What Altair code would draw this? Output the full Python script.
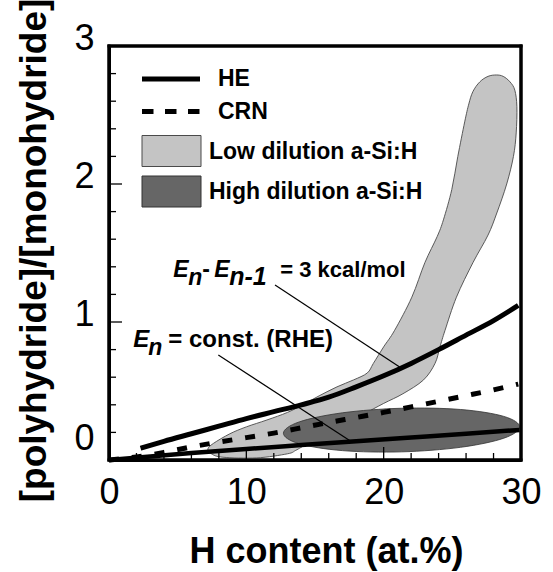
import altair as alt
import pandas as pd

F = "Liberation Sans"

# ---- data ----
he_x = [2.3, 4, 6, 8, 10, 12, 14, 16, 18, 20, 22, 24, 26, 28, 29.8]
he_y = [0.085, 0.135, 0.19, 0.245, 0.30, 0.35, 0.40, 0.455, 0.53, 0.61, 0.70, 0.80, 0.905, 1.01, 1.12]

crn_x = [0, 2, 4, 6, 8, 10, 12, 14, 16, 18, 20, 22, 24, 26, 28, 29.8]
crn_y = [0, 0.022, 0.055, 0.095, 0.13, 0.162, 0.195, 0.233, 0.272, 0.308, 0.345, 0.385, 0.425, 0.466, 0.508, 0.55]

rhe_x = [0, 3, 6, 10, 14, 18, 22, 26, 29.9]
rhe_y = [0, 0.025, 0.05, 0.08, 0.108, 0.136, 0.163, 0.19, 0.218]

low_x = [27.6, 28.2, 28.7, 29.2, 29.55, 29.7, 29.65, 29.45, 28.96, 28.24, 27.6, 26.5, 25.3, 24.47,
         24.1, 23.74, 22.9, 21.4, 20.0, 18.5, 16.5, 14.5, 13.6, 13.0, 10.75, 8.3, 7.45, 7.2, 7.6,
         8.8, 10.0, 11.5, 13.0, 14.2, 15.3, 16.6, 17.8, 18.8, 19.25, 20.0, 20.8, 22.05, 23.0, 23.9,
         24.35, 24.96, 25.4, 25.9, 26.2, 26.5, 27.0]
low_y = [2.78, 2.79, 2.78, 2.74, 2.68, 2.56, 2.37, 2.20, 2.0, 1.79, 1.63, 1.43, 1.18, 0.94,
         0.82, 0.70, 0.58, 0.48, 0.41, 0.33, 0.22, 0.12, 0.07, 0.045, 0.015, 0.02, 0.045, 0.08, 0.12,
         0.19, 0.24, 0.29, 0.345, 0.405, 0.465, 0.53, 0.58, 0.63, 0.70, 0.82, 0.94, 1.18, 1.43, 1.62,
         1.74, 1.96, 2.2, 2.45, 2.58, 2.67, 2.74]

high_x = [29.9, 28.75, 25.6, 21.3, 17.0, 13.85, 12.7, 13.85, 17.0, 21.3, 25.6, 28.75]
high_y = [0.24, 0.316, 0.366, 0.375, 0.342, 0.276, 0.194, 0.118, 0.068, 0.059, 0.092, 0.158]

x_major = [0, 10, 20, 30]
y_major = [0, 1, 2, 3]
x_minor_ticks = [2, 4, 6, 8, 12, 14, 16, 18, 22, 24, 26, 28]
x_major_ticks = [10, 20]
y_minor_ticks = [0.2, 0.4, 0.6, 0.8, 1.2, 1.4, 1.6, 1.8, 2.2, 2.4, 2.6, 2.8]
y_major_ticks = [1, 2]

legend_labels = ["HE", "CRN", "Low dilution a-Si:H", "High dilution a-Si:H"]

# leader lines (from label to curve)
lead1 = [12.09, 1.268, 21.3, 0.664]
lead2 = [7.96, 0.761, 17.55, 0.14]
# annotation anchors (left / baseline of first letter)
ann1 = [4.68, 1.328]
ann2 = [1.77, 0.821]

W, H = 412, 414
XMIN, XMAX, YMIN, YMAX = 0, 30, 0, 3
LIGHT = "#c4c4c4"
DARK = "#666666"

xs = alt.Scale(domain=[XMIN, XMAX], nice=False, zero=False)
ys = alt.Scale(domain=[YMIN, YMAX], nice=False, zero=False)
xaxis = alt.Axis(values=x_major, format="d", grid=False, domain=True, domainColor="black",
                 domainWidth=3, ticks=False, tickSize=0,
                 labelFont=F, labelFontSize=36, labelColor="black", labelPadding=15,
                 labelFlush=False, labelOverlap=False, labelBound=False,
                 title="H content (at.%)", titleFont=F, titleFontSize=36, titleFontWeight="bold",
                 titleColor="black", titleX=217, titleY=102, titleAlign="center",
                 titleBaseline="alphabetic", titleAnchor="start")
yaxis = alt.Axis(values=y_major, format="d", grid=False, domain=True, domainColor="black",
                 domainWidth=3, ticks=False, tickSize=0,
                 labelFont=F, labelFontSize=36, labelColor="black", labelPadding=15,
                 labelFlush=False, labelOverlap=False, labelBound=False, labelBaseline="middle",
                 labelOffset={"condition": {"test": "datum.value == 0", "value": -22}, "value": -8},
                 title="[polyhydride]/[monohydride]", titleFont=F, titleFontSize=37,
                 titleFontWeight="bold", titleColor="black", titleX=-64, titleY=204,
                 titleAngle=270, titleAlign="center", titleBaseline="alphabetic", titleAnchor="start")

X = alt.X("x:Q", scale=xs, axis=xaxis)
Y = alt.Y("y:Q", scale=ys, axis=yaxis)


def df_xy(xv, yv):
    return pd.DataFrame({"x": xv, "y": yv, "i": list(range(len(xv)))})


low = alt.Chart(df_xy(low_x, low_y)).mark_line(
    fill=LIGHT, stroke="#4a4a4a", strokeWidth=0.9, interpolate="cardinal-closed"
).encode(x=X, y=Y, order="i:Q")

high = alt.Chart(df_xy(high_x, high_y)).mark_line(
    fill=DARK, stroke="#333333", strokeWidth=0.8, interpolate="cardinal-closed"
).encode(x=X, y=Y, order="i:Q")

crn = alt.Chart(df_xy(crn_x, crn_y)).mark_line(
    color="black", strokeWidth=5, strokeDash=[10, 13], interpolate="monotone"
).encode(x=X, y=Y, order="i:Q")

he = alt.Chart(df_xy(he_x, he_y)).mark_line(
    color="black", strokeWidth=5, interpolate="monotone"
).encode(x=X, y=Y, order="i:Q")

rhe = alt.Chart(df_xy(rhe_x, rhe_y)).mark_line(
    color="black", strokeWidth=4.5, interpolate="monotone"
).encode(x=X, y=Y, order="i:Q")

leads = alt.Chart(pd.DataFrame([lead1, lead2], columns=["x", "y", "x2", "y2"])).mark_rule(
    color="black", strokeWidth=1.2).encode(x=X, y=Y, x2="x2:Q", y2="y2:Q")

# pixel -> data units (tick lengths / thicknesses)
ux = (XMAX - XMIN) / W
uy = (YMAX - YMIN) / H
tw = 0.65   # half tick thickness, px
fw = 1.5    # half frame thickness, px

rect_rows = []
for v in x_minor_ticks:
    rect_rows.append([v - tw * ux, YMIN, v + tw * ux, YMIN + 7 * uy])
for v in x_major_ticks:
    rect_rows.append([v - tw * ux, YMIN, v + tw * ux, YMIN + 13 * uy])
for v in y_minor_ticks:
    rect_rows.append([XMIN, v - tw * uy, XMIN + 7 * ux, v + tw * uy])
for v in y_major_ticks:
    rect_rows.append([XMIN, v - tw * uy, XMIN + 13 * ux, v + tw * uy])
# frame as four thin filled rectangles
rect_rows += [
    [XMIN - fw * ux, YMAX - fw * uy, XMAX + fw * ux, YMAX + fw * uy],
    [XMAX - fw * ux, YMIN - fw * uy, XMAX + fw * ux, YMAX + fw * uy],
    [XMIN - fw * ux, YMIN - fw * uy, XMAX + fw * ux, YMIN + fw * uy],
    [XMIN - fw * ux, YMIN - fw * uy, XMIN + fw * ux, YMAX + fw * uy],
]
rects = alt.Chart(pd.DataFrame(rect_rows, columns=["x", "y", "x2", "y2"])).mark_rect(
    color="black").encode(x=X, y=Y, x2="x2:Q", y2="y2:Q")

one = pd.DataFrame({"a": [0]})

leg_he = alt.Chart(one).mark_rule(color="black", strokeWidth=5).encode(
    x=alt.value(33), x2=alt.value(91), y=alt.value(33))
leg_crn = alt.Chart(one).mark_rule(color="black", strokeWidth=5, strokeDash=[11.5, 11.5]).encode(
    x=alt.value(33), x2=alt.value(92), y=alt.value(65.5))
leg_low = alt.Chart(one).mark_rect(fill=LIGHT, stroke="#4a4a4a", strokeWidth=1).encode(
    x=alt.value(33), x2=alt.value(92), y=alt.value(89.5), y2=alt.value(120.5))
leg_high = alt.Chart(one).mark_rect(fill=DARK, stroke="#333333", strokeWidth=1).encode(
    x=alt.value(33), x2=alt.value(92), y=alt.value(130), y2=alt.value(161))


def leg_text(s, x, y):
    return alt.Chart(pd.DataFrame({"t": [s]})).mark_text(
        align="left", baseline="middle", font=F, fontSize=23, fontWeight="bold", color="black"
    ).encode(x=alt.value(x), y=alt.value(y), text="t:N")


legend_texts = [
    leg_text(legend_labels[0], 109, 33),
    leg_text(legend_labels[1], 109, 66),
    leg_text(legend_labels[2], 100, 106),
    leg_text(legend_labels[3], 100, 146),
]


def ann(pos, s, dx, dy=0, size=22, italic=False):
    return alt.Chart(pd.DataFrame({"x": [pos[0]], "y": [pos[1]], "t": [s]})).mark_text(
        align="left", baseline="alphabetic", dx=dx, dy=dy, font=F, fontSize=size,
        fontWeight="bold", fontStyle="italic" if italic else "normal", color="black"
    ).encode(x=X, y=Y, text="t:N")


ann_layers = [
    ann(ann1, "E", 0, size=23, italic=True),
    ann(ann1, "n", 15, dy=8, size=23, italic=True),
    ann(ann1, "-", 29, size=23),
    ann(ann1, "E", 41, size=23, italic=True),
    ann(ann1, "n-1", 56, dy=8, size=25, italic=True),
    ann(ann1, "= 3 kcal/mol", 107, size=22),
    ann(ann2, "E", 0, size=24, italic=True),
    ann(ann2, "n", 15, dy=8, size=23, italic=True),
    ann(ann2, "= const. (RHE)", 35, size=24),
]

chart = alt.layer(
    low, high, crn, he, rhe, leads, rects,
    leg_he, leg_crn, leg_low, leg_high, *legend_texts, *ann_layers
).properties(
    width=W, height=H,
    autosize=alt.AutoSizeParams(type="none"),
    padding={"left": 109, "top": 46, "right": 32, "bottom": 112},
    background="white",
).configure_view(stroke="black", strokeWidth=3)

chart.save("out.html", embed_options={"renderer": "svg", "actions": False})
